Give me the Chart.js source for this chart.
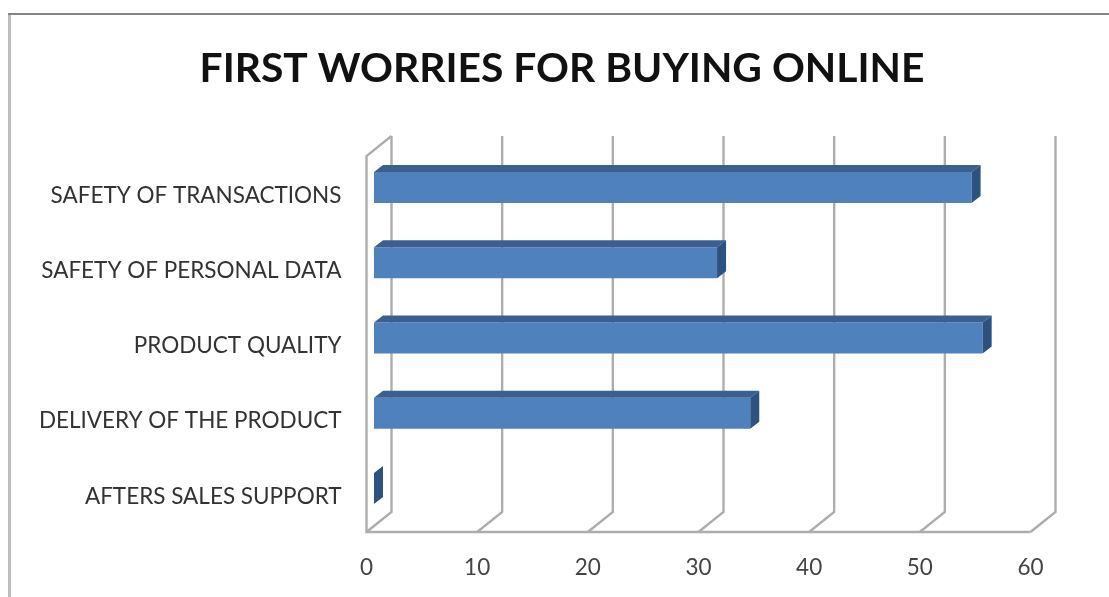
<!DOCTYPE html>
<html><head><meta charset="utf-8">
<script src="https://cdn.jsdelivr.net/npm/chart.js@4"></script>
<style>html,body{margin:0;padding:0;background:#fff}canvas{display:block;filter:blur(0.5px)}</style>
</head><body>
<canvas id="c" width="1109" height="597" style="width:1109px;height:597px"></canvas>
<script>
const chartTitle = "FIRST WORRIES FOR BUYING ONLINE";
const categories = ["SAFETY OF TRANSACTIONS","SAFETY OF PERSONAL DATA","PRODUCT QUALITY","DELIVERY OF THE PRODUCT","AFTERS SALES SUPPORT"];
const values = [54,31,55,34,0];
const tickStep = 10, axisMax = 60;

const DEPTH_X = 25, DEPTH_Y = -20;
const BAR_SHIFT_X = 7.5, BAR_SHIFT_Y = -6, BAR_DX = 9, BAR_DY = -7;
const GRID = "#adadad";

const frame3d = {
  id: "frame3d",
  beforeDatasetsDraw(chart){
    const {ctx, scales:{x}, chartArea:a} = chart;
    ctx.save();
    // outer frame of the picture
    ctx.fillStyle = "#858585"; ctx.fillRect(8,13,1101,2);
    ctx.fillStyle = "#bdbdbd"; ctx.fillRect(8,15,3,582);
    ctx.strokeStyle = GRID; ctx.lineWidth = 2.4; ctx.lineJoin = "miter";
    // back wall verticals with floor diagonals
    x.ticks.forEach(t=>{
      const p = x.getPixelForValue(t.value);
      ctx.beginPath();
      ctx.moveTo(p, a.bottom);
      ctx.lineTo(p+DEPTH_X, a.bottom+DEPTH_Y);
      ctx.lineTo(p+DEPTH_X, a.top+DEPTH_Y);
      ctx.stroke();
    });
    // side wall and floor front edge
    const p0 = x.getPixelForValue(0), pN = x.getPixelForValue(axisMax);
    ctx.beginPath();
    ctx.moveTo(pN, a.bottom); ctx.lineTo(p0, a.bottom); ctx.lineTo(p0, a.top);
    ctx.lineTo(p0+DEPTH_X, a.top+DEPTH_Y);
    ctx.stroke();
    ctx.restore();
    ctx.save();
    ctx.translate(BAR_SHIFT_X, BAR_SHIFT_Y);
  },
  afterDatasetsDraw(chart){
    const {ctx} = chart;
    chart.getDatasetMeta(0).data.forEach(el=>{
      const {x, y, base, height} = el.getProps(["x","y","base","height"], true);
      const top = y-height/2, bot = y+height/2;
      ctx.fillStyle = "#3a6092";
      ctx.beginPath();
      ctx.moveTo(base, top); ctx.lineTo(base+BAR_DX, top+BAR_DY);
      ctx.lineTo(x+BAR_DX, top+BAR_DY); ctx.lineTo(x, top); ctx.closePath(); ctx.fill();
      ctx.fillStyle = "#2c5280";
      ctx.beginPath();
      ctx.moveTo(x, top); ctx.lineTo(x+BAR_DX, top+BAR_DY);
      ctx.lineTo(x+BAR_DX, bot+BAR_DY); ctx.lineTo(x, bot); ctx.closePath(); ctx.fill();
    });
    ctx.restore();
  }
};

new Chart(document.getElementById("c"), {
  type: "bar",
  plugins: [frame3d],
  data: { labels: categories, datasets: [{ data: values, backgroundColor: "#4f81bd", barPercentage: 0.412, categoryPercentage: 1 }] },
  options: {
    indexAxis: "y",
    responsive: false,
    animation: false,
    layout: { padding: { left: 15, right: 0, top: 0, bottom: 0 } },
    plugins: {
      legend: { display: false },
      tooltip: { enabled: false },
      title: { display: true, text: chartTitle, color: "#111",
        font: { family: "Lato", size: 40.8, weight: "bold", lineHeight: 1.2 },
        padding: { top: 44, bottom: 63.04 } }
    },
    scales: {
      x: { min: 0, max: axisMax,
        ticks: { stepSize: tickStep, color: "#444", padding: 14, maxRotation: 0,
          font: { family: "Lato", size: 22.5 } },
        grid: { display: false }, border: { display: false },
        afterFit(s){ s.height = 65; } },
      y: {
        ticks: { color: "#333", padding: 17, labelOffset: 2, font: { family: "Lato", size: 22.5 } },
        grid: { display: false }, border: { display: false },
        afterFit(s){ s.width = 351.5; } },
      rightGutter: { type: "linear", position: "right",
        ticks: { display: false },
        grid: { display: false }, border: { display: false },
        afterFit(s){ s.width = 78.5; } }
    }
  }
});
</script>
</body></html>
